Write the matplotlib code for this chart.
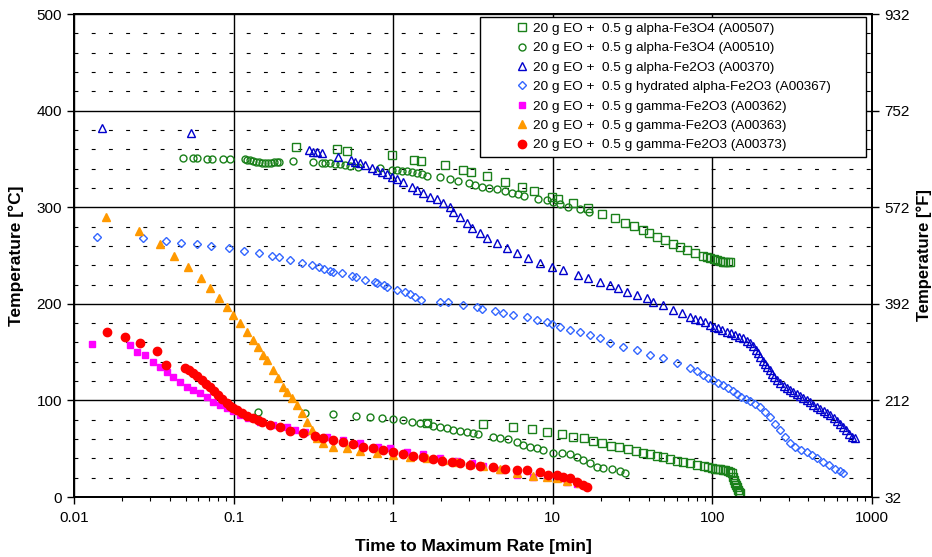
import numpy as np
import matplotlib.pyplot as plt
from matplotlib.ticker import FixedLocator, LogLocator, MultipleLocator, FuncFormatter, NullFormatter

plt.rcParams['font.family'] = ['Liberation Sans', 'DejaVu Sans']

# time to maximum rate [min] / temperature [C]
a507_time = [0.246, 0.445, 0.514, 0.98, 1.35, 1.49, 2.11, 2.74, 3.07, 3.87, 5.01, 6.41, 7.62,
             9.89, 10.8, 13.4, 16.6, 20.3, 24.5, 28.3, 32.3, 36.7, 40.1, 45.0, 50.5, 56.6,
             62.7, 69.3, 77.8, 87.3, 92, 96.6, 102, 107, 112, 116, 120, 125, 129,
             1.63, 3.65, 5.64, 7.41, 9.20, 11.4, 13.4, 15.7, 17.9, 20.3, 23.2, 26.0, 29.6,
             33.2, 36.7, 40.6, 45.0, 49.0, 54.2, 60.0, 65.4, 72.4, 80.0, 88.5, 94, 99.3,
             104, 108, 112, 116, 120, 125, 129, 133, 135, 137, 139, 141, 143, 145, 147, 149]
a507_temp = [362, 360, 358, 354, 349, 348, 344, 338.5, 336, 332, 326, 321, 317,
             311, 308, 304, 299, 293, 289, 284, 280.5, 276, 273, 269, 266, 262,
             259, 256, 253, 249.5, 248, 247, 246, 245, 244, 243, 243, 243, 243,
             76.6, 75.6, 72.5, 70.4, 67.3, 65.2, 62.1, 61.1, 58.0, 55.9, 52.8, 51.8, 49.7,
             47.6, 45.5, 44.5, 42.4, 41.4, 39.3, 37.3, 36.2, 35.2, 33.1, 32.1, 31, 30.0,
             29.5, 29.0, 28.5, 28.0, 27.5, 26.9, 26, 24.8, 20.7, 17.5, 14.5, 12.5, 10.4, 7.2, 5.5, 4.1]

a510_time = [0.0482, 0.0557, 0.0590, 0.0681, 0.0733, 0.0859, 0.0949, 0.118, 0.121, 0.127,
             0.132, 0.138, 0.144, 0.151, 0.157, 0.164, 0.172, 0.179, 0.187, 0.192, 0.236,
             0.314, 0.358, 0.374, 0.402, 0.432, 0.464, 0.499, 0.536, 0.601, 0.826, 0.982,
             1.06, 1.14, 1.22, 1.31, 1.41, 1.51, 1.63, 1.96, 2.27, 2.55, 2.99, 3.26, 3.60,
             3.98, 4.47, 5.01, 5.55, 6.05, 6.60, 8.08, 9.20, 10.0, 11.1, 12.5, 14.8, 16.9,
             0.142, 0.280, 0.420, 0.585, 0.716, 0.851, 0.997, 1.15, 1.31, 1.47, 1.63, 1.78,
             1.96, 2.17, 2.37, 2.62, 2.90, 3.16, 3.40, 4.22, 4.67, 5.24, 5.97, 6.51, 7.19,
             7.96, 8.69, 10.0, 11.4, 12.8, 14.2, 15.5, 17.1, 18.9, 20.6, 23.5, 26.4, 28.3]
a510_temp = [351, 351, 351, 350, 350, 350, 350, 350, 349, 349,
             348, 347, 347, 346, 346, 346, 346, 347, 347, 347, 348,
             347, 346, 346, 346, 345, 345, 344, 343, 342, 341, 338.5,
             338.5, 337.5, 337.5, 336, 335, 334, 332, 331, 329, 327, 325, 323, 321,
             320, 319, 317, 315, 314, 312, 308, 307, 305, 303, 300, 298, 295,
             88, 87, 86, 84, 83, 82, 81, 80, 78, 77, 77, 73.5,
             72.5, 71.4, 69.4, 68.3, 67.3, 66.3, 65.2, 62.1, 61.1, 60, 57, 54, 52,
             51, 48.7, 45.5, 45.5, 44.5, 41.4, 38.3, 35.2, 31, 30, 29, 27, 25]

a370_time = [0.0150, 0.0541, 0.297, 0.314, 0.333, 0.358, 0.451, 0.544, 0.576, 0.619, 0.666,
             0.736, 0.791, 0.851, 0.914, 0.982, 1.06, 1.15, 1.31, 1.41, 1.54, 1.70, 1.88,
             2.05, 2.27, 2.37, 2.62, 2.90, 3.12, 3.50, 3.87, 4.47, 5.16, 5.97, 7.00, 8.31,
             9.89, 11.6, 14.4, 16.6, 19.8, 22.8, 25.6, 29.2, 33.7, 38.9, 42.4, 49.0, 56.6,
             64.5, 72.4, 78, 84, 90, 97, 103, 108, 115, 123, 130, 139, 147, 156, 164, 172,
             180, 187, 193, 200, 207, 214, 220, 228, 236, 245, 254, 265, 279, 292, 306, 322,
             338, 354, 370, 390, 410, 430, 452, 475, 500, 523, 546, 575, 600, 630, 658, 690,
             720, 750, 782]
a370_temp = [382, 377, 359, 357, 357, 356, 352, 349, 347, 346, 344,
             340.5, 338.5, 336, 334, 331, 329, 326, 321, 318, 315, 311, 308.5,
             304, 300, 295, 290, 284, 278.5, 273, 268, 263, 258, 252.5, 247, 242,
             238, 235, 230, 227, 222.5, 219, 216, 212, 209, 206, 202, 199, 193.6,
             190.5, 186, 184.5, 183, 181, 178, 176.5, 175, 173, 171, 169.5, 168, 166, 164.6, 162, 159,
             156, 152, 149, 145, 141, 138, 134.6, 131, 127, 124, 121, 118, 115, 113, 111, 109,
             106.5, 104.5, 102.5, 100, 98, 95.5, 93, 91, 89, 87, 85, 82, 79, 76, 72.5, 69,
             65.5, 62.5, 61]

a367_time = [0.0139, 0.0271, 0.0377, 0.0468, 0.0590, 0.0721, 0.0936, 0.116, 0.144, 0.174,
             0.192, 0.226, 0.268, 0.310, 0.343, 0.368, 0.402, 0.420, 0.478, 0.552, 0.585,
             0.666, 0.769, 0.791, 0.875, 0.914, 1.06, 1.19, 1.27, 1.37, 1.49, 1.96, 2.20,
             2.74, 3.35, 3.60, 4.34, 4.87, 5.64, 6.89, 7.96, 9.20, 9.89, 11.1, 12.8, 14.8,
             17.1, 19.8, 22.8, 27.5, 33.7, 40.6, 49.0, 60.0, 72.4, 80, 87.3, 94, 101, 108,
             116, 125, 134, 143, 152, 162, 172, 185, 199, 214, 230, 247, 265, 285, 306, 330,
             360, 392, 420, 450, 493, 540, 590, 630, 658]
a367_temp = [269, 268, 265, 263, 262, 260, 258, 255, 252.5, 249.5,
             248.5, 245, 242, 240, 238, 236, 234, 233, 232, 229, 228,
             224.6, 222.5, 221.5, 219.5, 217, 214, 212, 210, 207, 204, 202, 202,
             199, 197, 195, 192.5, 190.5, 188.4, 186, 183, 181, 179, 176, 173, 171,
             168, 164.6, 159, 155, 152, 147, 144, 139, 133.5, 130, 126, 123.5, 121, 118.5,
             116, 113, 110, 107, 104, 101, 99, 96, 93, 88, 83, 76, 69, 62, 56, 52,
             49, 46.6, 43.5, 40.5, 36, 33, 29.5, 27, 25]

a362_time = [0.0130, 0.0224, 0.0248, 0.0279, 0.0313, 0.0346, 0.0383, 0.0417, 0.0461, 0.0510,
             0.0557, 0.0615, 0.0681, 0.0743, 0.0822, 0.0909, 0.099, 0.110, 0.123, 0.146,
             0.177, 0.216, 0.243, 0.280, 0.385, 0.484, 0.619, 0.803, 0.955, 1.22, 1.54,
             1.96, 2.51, 3.12, 3.65, 4.67, 5.97, 7.52, 9.20, 10.6, 12.3, 14.2]
a362_temp = [158, 157, 150, 147, 140, 134.6, 129.4, 124, 119, 114,
             111, 107.7, 103.5, 98, 95, 92, 89, 85, 82, 77.6,
             74.5, 72.5, 69.4, 67.3, 62.1, 59, 55.9, 51.8, 50.7, 46.6, 44.5,
             40.4, 37.3, 35.2, 32.1, 28, 22.8, 20.7, 20.7, 19.7, 15.5, 13.5]

a363_time = [0.0159, 0.0255, 0.0346, 0.0423, 0.0518, 0.0625, 0.0711, 0.0811, 0.0909, 0.099,
             0.110, 0.121, 0.132, 0.142, 0.153, 0.162, 0.177, 0.190, 0.204, 0.216, 0.232,
             0.250, 0.268, 0.288, 0.310, 0.333, 0.363, 0.420, 0.514, 0.619, 0.791, 0.997,
             1.27, 1.63, 2.05, 2.51, 3.03, 3.65, 4.67, 5.97, 7.52, 9.20, 10.6, 12.3, 14.8]
a363_temp = [290, 275, 262, 249.5, 238, 226.7, 216, 206, 196.7, 188.4,
             180, 171, 162.5, 155, 147, 142, 131.5, 123, 114, 108.7, 102.5,
             95, 87, 77.6, 69.4, 61, 55.9, 51.8, 50.7, 47.6, 45.5, 43.5,
             41.4, 40.4, 38.3, 36.2, 34.2, 32.1, 29, 24.8, 21.7, 20.7, 19.7, 16.6, 14.5]

a373_time = [0.0161, 0.0209, 0.0259, 0.0331, 0.0377, 0.0496, 0.0526, 0.0557, 0.0590, 0.0634,
             0.0672, 0.0711, 0.0754, 0.0799, 0.0846, 0.0909, 0.0949, 0.099, 0.105, 0.113,
             0.121, 0.132, 0.142, 0.151, 0.169, 0.195, 0.226, 0.272, 0.324, 0.363, 0.420,
             0.484, 0.560, 0.647, 0.747, 0.863, 0.997, 1.15, 1.33, 1.54, 1.78, 2.02, 2.34,
             2.62, 3.03, 3.50, 4.22, 5.02, 5.97, 6.89, 8.31, 9.33, 10.6, 11.6, 12.8, 14.2,
             15.5, 16.4]
a373_temp = [171, 165.6, 159.4, 151, 136.6, 133.5, 131.5, 128.4, 125.3, 121,
             117, 114, 110, 105.6, 101.4, 97.3, 94.2, 92, 90, 87,
             84, 82, 79.7, 77.6, 74.5, 72.5, 68.3, 66.3, 63.1, 61, 59,
             57, 55, 51.8, 50.7, 48.7, 46.6, 44.5, 42.4, 41.4, 39.3, 37.3, 36.2,
             35.2, 33.1, 32.1, 31, 29, 28, 28, 25.9, 22.8, 22.8, 20.7, 19.7, 15.5,
             12.4, 10.4]

labels = ["20 g EO +  0.5 g alpha-Fe3O4 (A00507)",
          "20 g EO +  0.5 g alpha-Fe3O4 (A00510)",
          "20 g EO +  0.5 g alpha-Fe2O3 (A00370)",
          "20 g EO +  0.5 g hydrated alpha-Fe2O3 (A00367)",
          "20 g EO +  0.5 g gamma-Fe2O3 (A00362)",
          "20 g EO +  0.5 g gamma-Fe2O3 (A00363)",
          "20 g EO +  0.5 g gamma-Fe2O3 (A00373)"]

x_ticks = [0.01, 0.1, 1, 10, 100, 1000]
c_ticks = [0, 100, 200, 300, 400, 500]
f_ticks = [32, 212, 392, 572, 752, 932]

series = [
    (a507_time, a507_temp, dict(marker='s', ms=5.5, mfc='none', mec='#1a801a', mew=1.0)),
    (a510_time, a510_temp, dict(marker='o', ms=5, mfc='none', mec='#1a801a', mew=1.0)),
    (a370_time, a370_temp, dict(marker='^', ms=5.5, mfc='none', mec='#0000cc', mew=1.0)),
    (a367_time, a367_temp, dict(marker='D', ms=4, mfc='none', mec='#3366ff', mew=1.0)),
    (a362_time, a362_temp, dict(marker='s', ms=5, mfc='#ff00ff', mec='#ff00ff')),
    (a363_time, a363_temp, dict(marker='^', ms=6, mfc='#ff9900', mec='#ff9900')),
    (a373_time, a373_temp, dict(marker='o', ms=6, mfc='#ff0000', mec='#ff0000')),
]

fig = plt.figure(figsize=(9.32, 5.57), dpi=100)
ax = fig.add_axes([0.0794, 0.1077, 0.8562, 0.8671])

for (t, temp, style), lab in zip(series, labels):
    ax.plot(t, temp, ls='none', label=lab, **style)

ax.set_xscale('log')
ax.set_xlim(0.01, 1000)
ax.set_ylim(0, 500)
ax.xaxis.set_major_locator(FixedLocator(x_ticks))
ax.xaxis.set_major_formatter(FuncFormatter(lambda v, p: '%g' % v))
ax.xaxis.set_minor_locator(LogLocator(base=10, subs=np.arange(2, 10)))
ax.xaxis.set_minor_formatter(NullFormatter())
ax.yaxis.set_major_locator(FixedLocator(c_ticks))
ax.yaxis.set_minor_locator(MultipleLocator(20))

ax.grid(True, which='major', color='black', lw=1.0)
ax.yaxis.grid(True, which='minor', color='black', lw=0.8, ls=(0, (3.5, 12)))
ax.set_axisbelow(True)

ax.tick_params(which='major', direction='out', length=5, width=1, labelsize=11, colors='black')
ax.tick_params(which='minor', direction='out', length=3, width=0.8)
ax.tick_params(axis='y', which='minor', length=0)
ax.tick_params(axis='x', which='major', pad=5)
for s in ax.spines.values():
    s.set_linewidth(1.3)

ax.set_xlabel('Time to Maximum Rate [min]', fontsize=12.5, fontweight='bold', labelpad=10)
ax.set_ylabel('Temperature [\u00b0C]', fontsize=12.5, fontweight='bold', labelpad=9)

ax2 = ax.twinx()
ax2.set_ylim(32, 932)
ax2.yaxis.set_major_locator(FixedLocator(f_ticks))
ax2.tick_params(direction='out', length=5, width=1, labelsize=11, pad=4)
ax2.set_ylabel('Temperature [\u00b0F]', fontsize=12, fontweight='bold', labelpad=5)
for s in ax2.spines.values():
    s.set_linewidth(1.3)

# Excel-style legend: fixed-width box, symbols set in from the left edge
leg = ax.legend(loc='upper left', bbox_to_anchor=(0.5088, 0.706, 0.4837, 0.2878),
                mode='expand', borderaxespad=0, fontsize=9.7, frameon=True, fancybox=False,
                edgecolor='black', framealpha=1, handlelength=5.5, handletextpad=-2.0,
                labelspacing=0.52, borderpad=0.4, numpoints=1)
leg.get_frame().set_linewidth(1.0)

fig.savefig('out.png', dpi=100)
